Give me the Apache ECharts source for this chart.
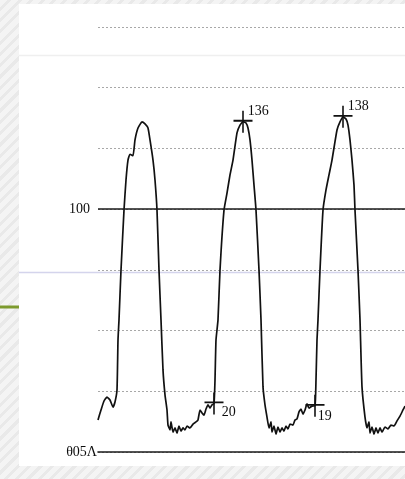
<!DOCTYPE html>
<html>
<head>
<meta charset="utf-8">
<script src="https://cdn.jsdelivr.net/npm/echarts@6/dist/echarts.min.js"></script>
<style>
  html, body { margin: 0; padding: 0; }
  #wrap {
    width: 405px; height: 479px; position: relative;
    background: repeating-linear-gradient(135deg, #f4f4f4 0px, #f4f4f4 5px, #e9e9e9 5px, #e9e9e9 8px);
  }
  #chart { width: 405px; height: 479px; position: absolute; left: 0; top: 0; }
</style>
</head>
<body>
<div id="wrap"><div id="chart"></div></div>
<script>
// Arterial pressure trace: time in ms, pressure in mmHg
const timeMs = [
  0, 24, 48, 72, 96, 120, 136, 152, 160, 168, 184, 208, 224, 240, 256, 280, 296, 320, 352, 376,
  400, 416, 440, 456, 472, 488, 504, 520, 536, 552, 560, 576, 584, 600, 616, 632, 648, 664, 680, 696,
  712, 736, 760, 784, 800, 816, 832, 848, 864, 880, 896, 912, 928, 936, 944, 960, 976, 1008, 1032, 1056,
  1080, 1112, 1136, 1160, 1184, 1200, 1216, 1232, 1248, 1264, 1288, 1304, 1320, 1336, 1352, 1368, 1384, 1392, 1408, 1424,
  1440, 1456, 1472, 1488, 1504, 1520, 1536, 1560, 1576, 1592, 1608, 1624, 1640, 1656, 1672, 1688, 1712, 1736, 1744, 1752,
  1760, 1776, 1800, 1824, 1848, 1872, 1912, 1936, 1960, 1984, 2000, 2016, 2032, 2048, 2056, 2080, 2096, 2112, 2136, 2152,
  2168, 2176, 2192, 2208, 2224, 2240, 2256, 2272, 2296, 2320, 2344, 2368, 2392, 2416, 2440, 2456
];
const pressure = [
  13.2, 17.3, 21.0, 22.6, 21.4, 18.5, 20.6, 25.5, 46.1, 54.4, 74.9, 99.6, 112.0, 120.2, 122.6, 122.0, 128.5, 133.4, 135.9, 135.1,
  133.4, 128.5, 120.2, 112.0, 99.6, 74.9, 54.4, 33.8, 23.5, 17.3, 11.1, 9.1, 12.4, 8.2, 9.9, 7.8, 10.7, 8.6, 9.9, 9.1,
  10.7, 9.9, 11.5, 12.4, 13.2, 17.3, 16.1, 15.2, 17.7, 19.4, 18.1, 19.4, 20, 29.6, 46.1, 54.4, 74.9, 99.6, 106.6, 114.1,
  120.2, 131.4, 134.6, 136, 135.5, 133.4, 128.5, 120.2, 109.9, 99.6, 74.9, 54.4, 26.8, 19.4, 14.4, 9.9, 12.4, 8.2, 10.7, 7.4,
  10.3, 8.2, 9.9, 8.6, 10.7, 9.5, 11.5, 11.1, 13.2, 13.6, 16.5, 17.7, 15.6, 17.3, 19.8, 18.1, 18.9, 19, 29.6, 46.1,
  54.4, 74.9, 99.6, 107.9, 114.1, 120.2, 132.6, 135.9, 138, 137.1, 134.6, 128.5, 120.2, 109.9, 99.6, 74.9, 54.4, 26.8, 14.4, 9.9,
  12.4, 7.8, 10.3, 7.4, 9.9, 7.8, 9.9, 8.2, 10.3, 9.5, 11.1, 10.7, 12.8, 14.8, 17.3, 18.9
];
// Times of the marked systolic / diastolic readings
const markedTimes = [928, 1160, 1736, 1960];
// Y-axis tick labels that are printed
const tickValues = [0, 100];
const tickTexts = ['θ05Λ', '100'];
const gridStep = 25;
const refLine = 100;

const series = timeMs.map((t, i) => [t, pressure[i]]);
const markData = markedTimes.map(t => {
  const i = timeMs.indexOf(t);
  return [timeMs[i], pressure[i]];
});
// label placement: peaks above-right, troughs below-right
const labelOffsets = [[-4, 9], [-7, -10], [-9, 10], [-7, -11]];

const serif = '"Liberation Serif", "DejaVu Serif", serif';
const ink = '#0d0d0d';
const chart = echarts.init(document.getElementById('chart'), null, { renderer: 'canvas' });

chart.setOption({
  backgroundColor: 'transparent',
  animation: false,
  graphic: [
    { type: 'rect', z: -10, shape: { x: 19, y: 4, width: 386, height: 462 }, style: { fill: '#ffffff' } },
    { type: 'line', z: -9, shape: { x1: 19, y1: 55.5, x2: 405, y2: 55.5 }, style: { stroke: '#efefef', lineWidth: 1.5 } },
    { type: 'line', z: -9, shape: { x1: 19, y1: 272.5, x2: 405, y2: 272.5 }, style: { stroke: '#d4d4ec', lineWidth: 1.5 } },
    { type: 'line', z: -9, shape: { x1: 0, y1: 307, x2: 19, y2: 307 }, style: { stroke: '#7d9a2e', lineWidth: 3 } }
  ],
  grid: { left: 98, right: 0, top: 27, bottom: 27 },
  xAxis: {
    type: 'value', min: 0, max: timeMs[timeMs.length - 1],
    axisLine: { show: true, lineStyle: { color: '#1a1a1a', width: 1.6 } },
    axisTick: { show: false }, axisLabel: { show: false }, splitLine: { show: false }
  },
  yAxis: {
    type: 'value', min: 0, max: 175, interval: gridStep,
    axisLine: { show: false }, axisTick: { show: false },
    splitLine: { show: true, lineStyle: { color: '#a8a8a8', type: [2, 2], width: 1 } },
    axisLabel: {
      margin: 0,
      fontFamily: serif, fontSize: 14, color: ink,
      formatter: v => {
        const k = tickValues.indexOf(v);
        if (k < 0) return '';
        return v === 0 ? '{b|' + tickTexts[k] + '}' : '{a|' + tickTexts[k] + '}';
      },
      rich: {
        a: { fontFamily: serif, fontSize: 14, color: ink, padding: [0, 8, 0, 0] },
        b: { fontFamily: serif, fontSize: 14, color: ink, padding: [0, 1, 0, 0] }
      }
    }
  },
  series: [
    {
      type: 'line', data: series, showSymbol: false, smooth: 0.15,
      lineStyle: { color: '#111', width: 1.7 },
      markLine: {
        silent: true, symbol: 'none', label: { show: false },
        lineStyle: { color: '#1a1a1a', type: 'solid', width: 1.6 },
        data: [{ yAxis: refLine }]
      },
      z: 3
    },
    {
      type: 'scatter', z: 4,
      data: markData.map((d, i) => ({
        value: d,
        label: { offset: labelOffsets[i] }
      })),
      symbol: 'path://M0,10 L18,10 M9,0 L9,22',
      symbolSize: [19, 22],
      itemStyle: { color: 'none', borderColor: '#111', borderWidth: 1.7, opacity: 1 },
      label: {
        show: true, position: 'right', distance: 0,
        fontFamily: serif, fontSize: 14, color: ink, opacity: 1,
        formatter: p => String(p.value[1])
      }
    }
  ]
});
</script>
</body>
</html>
